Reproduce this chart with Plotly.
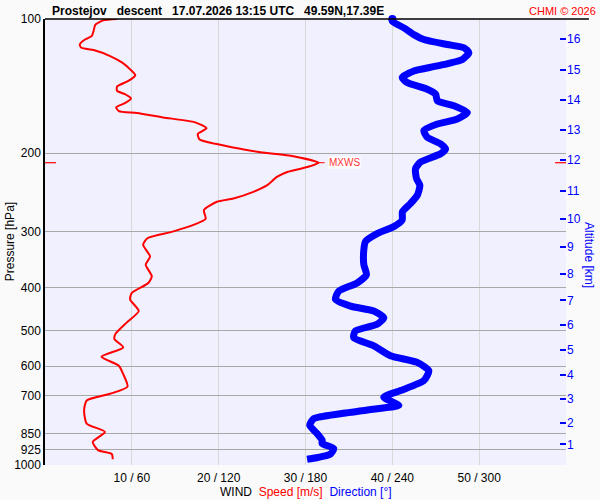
import numpy as np
import plotly.graph_objects as go

# wind speed profile (pressure hPa -> speed m/s)
spd_pres = [100.0, 100.7, 103.0, 106.3, 109.1, 111.2, 114.1, 116.0, 117.4, 121.1,
            125.3, 129.7, 133.8, 137.7, 141.7, 144.9, 147.4, 150.7, 154.4, 157.8,
            160.9, 162.5, 166.2, 170.5, 175.8, 181.0, 186.3, 190.5, 193.8, 198.9,
            203.2, 210.0, 214.7, 220.3, 226.0, 235.8, 244.1, 252.6, 256.9, 268.1,
            280.7, 289.5, 299.7, 310.1, 320.8, 340.7, 355.5, 377.5, 390.7, 411.2,
            425.4, 451.6, 479.5, 508.9, 522.1, 545.1, 571.7, 598.8, 624.9, 667.0,
            692.4, 716.6, 754.4, 807.5, 843.1, 887.6, 926.0, 945.2, 971.1]
speed = [8.3, 6.7, 5.8, 5.6, 5.4, 4.6, 4.0, 4.2, 5.6, 7.5,
         8.9, 9.8, 10.4, 9.6, 8.3, 8.3, 9.2, 9.9, 9.2, 8.2,
         8.5, 10.6, 13.6, 17.3, 18.6, 17.6, 17.8, 19.6, 21.5, 24.8,
         28.6, 31.5, 30.2, 27.9, 26.7, 25.6, 24.0, 21.7, 19.8, 18.3,
         18.5, 17.1, 14.7, 11.8, 11.3, 12.1, 11.6, 12.3, 11.9, 10.0,
         9.8, 10.8, 9.4, 8.1, 8.0, 9.0, 6.5, 8.5, 9.0, 9.5,
         7.5, 4.8, 4.5, 4.8, 6.9, 5.5, 6.1, 7.7, 7.8]

# wind direction profile (pressure hPa -> direction deg)
dir_pres = [100.0, 101.2, 104.7, 108.4, 111.2, 114.1, 116.0, 119.0, 123.2, 127.4,
            130.8, 135.3, 138.8, 143.7, 147.4, 152.5, 156.5, 162.0, 167.6, 172.0,
            177.9, 184.1, 190.5, 195.5, 200.5, 209.3, 216.6, 228.0, 235.8, 247.9,
            259.2, 270.4, 282.2, 292.1, 302.8, 315.5, 329.2, 355.5, 374.4, 390.7,
            407.6, 425.4, 440.2, 451.6, 467.4, 483.5, 500.3, 517.9, 540.4, 568.9,
            588.8, 614.4, 646.7, 680.8, 704.7, 735.4, 747.8, 767.3, 787.1, 814.7,
            850.2, 879.9, 895.0, 918.2, 945.2, 971.1]
direction = [240.0, 240.0, 248.0, 254.9, 261.8, 278.0, 289.5, 292.9, 288.4, 271.1,
             254.9, 246.8, 250.3, 264.1, 269.9, 271.1, 282.5, 291.8, 284.9, 271.1,
             261.8, 264.1, 273.3, 276.8, 273.3, 259.5, 256.0, 256.7, 259.0, 257.4,
             252.6, 247.0, 246.8, 241.0, 229.5, 221.4, 220.3, 220.3, 222.1, 215.7,
             203.0, 200.7, 211.1, 227.2, 234.1, 229.5, 214.5, 213.3, 227.2, 238.7,
             257.2, 265.2, 261.8, 245.7, 234.1, 244.5, 229.5, 204.1, 185.7, 182.9,
             188.0, 191.5, 191.5, 199.5, 197.2, 181.1]

# axis ticks
tick_speed = [10, 20, 30, 40, 50]
tick_dir = [60, 120, 180, 240, 300]
pres_ticks = [100, 200, 300, 400, 500, 600, 700, 850, 925, 1000]
alt_km = [1, 2, 3, 4, 5, 6, 7, 8, 9, 10, 11, 12, 13, 14, 15, 16]
alt_pres = [899.0, 803.3, 710.2, 628.1, 551.7, 486.1, 427.6, 372.3, 324.3, 280.8,
            242.8, 206.9, 177.0, 152.0, 130.3, 110.6]

FONT = "Liberation Sans, Arial, sans-serif"

i_max = int(np.argmax(speed))
p_max = spd_pres[i_max]
v_max = speed[i_max]

fig = go.Figure()

fig.add_trace(go.Scatter(
    x=direction, y=dir_pres, xaxis="x2", yaxis="y",
    mode="lines", line=dict(color="#0000ff", width=7, shape="spline", smoothing=0.6),
    hoverinfo="skip", showlegend=False))
fig.add_trace(go.Scatter(
    x=[direction[0]], y=[dir_pres[0]], xaxis="x2", yaxis="y",
    mode="markers", marker=dict(color="#0000ff", size=8),
    hoverinfo="skip", showlegend=False, cliponaxis=False))
fig.add_trace(go.Scatter(
    x=speed, y=spd_pres, xaxis="x", yaxis="y",
    mode="lines", line=dict(color="#ff0000", width=2, shape="spline", smoothing=0.6),
    hoverinfo="skip", showlegend=False))
# carrier for the altitude axis
fig.add_trace(go.Scatter(
    x=[None], y=[None], xaxis="x", yaxis="y2", mode="lines",
    hoverinfo="skip", showlegend=False))

fig.update_layout(
    width=600, height=500, autosize=False,
    margin=dict(l=45, r=34, t=16, b=35),
    paper_bgcolor="#fafafa", plot_bgcolor="#f0f0fe",
    font=dict(family=FONT, size=12, color="#000000"),
    xaxis=dict(range=[0, 60], tickvals=tick_speed + [60],
               ticktext=[f"{s} / {d}" for s, d in zip(tick_speed, tick_dir)] + [""],
               showgrid=True, gridcolor="#d8d8d8", gridwidth=1,
               zeroline=False, showline=False, ticks="", ticklabelstandoff=4),
    xaxis2=dict(range=[0, 360], overlaying="x", visible=False),
    yaxis=dict(type="log", range=[3, 2], tickvals=pres_ticks,
               ticktext=[str(p) for p in pres_ticks],
               showgrid=True, gridcolor="#a8a8a8", gridwidth=1,
               showline=True, linecolor="#000000", linewidth=1.5,
               zeroline=False, ticks=""),
    yaxis2=dict(type="log", range=[3, 2], overlaying="y", side="right",
                tickvals=alt_pres, ticktext=[str(a) for a in alt_km],
                ticks="inside", ticklen=6, tickwidth=2, tickcolor="#0000ff",
                tickfont=dict(color="#0000ff", size=12),
                showgrid=False, showline=False, zeroline=False),
)

# top frame line
fig.add_shape(type="line", xref="paper", yref="paper", x0=0, x1=1.044, y0=1, y1=1,
              line=dict(color="#000000", width=1.5))

# max wind markers
ly = np.log10(p_max)
fig.add_shape(type="line", xref="paper", yref="y", x0=0, x1=0.021, y0=p_max, y1=p_max,
              line=dict(color="#ff0000", width=1.2))
fig.add_shape(type="line", xref="paper", yref="y", x0=0.979, x1=1.0, y0=p_max, y1=p_max,
              line=dict(color="#ff0000", width=1.2))
fig.add_shape(type="line", xref="x", yref="y", x0=v_max, x1=v_max + 0.7, y0=p_max, y1=p_max,
              line=dict(color="#ff0000", width=1))
fig.add_annotation(x=v_max + 1.1, y=ly, xref="x", yref="y", text="MXWS", showarrow=False,
                   xanchor="left", yanchor="middle", bgcolor="#ffffff",
                   font=dict(color="#ff3333", size=10, family=FONT), borderpad=0)

# titles
fig.add_annotation(x=0.0096, y=1.018, xref="paper", yref="paper", showarrow=False,
                   xanchor="left", yanchor="middle",
                   text="<b>Prostejov   descent   17.07.2026 13:15 UTC   49.59N,17.39E</b>",
                   font=dict(size=12, color="#000000", family=FONT))
fig.add_annotation(x=1.0614, y=1.018, xref="paper", yref="paper", showarrow=False,
                   xanchor="right", yanchor="middle", text="CHMI © 2026",
                   font=dict(size=11, color="#ff0000", family=FONT))
fig.add_annotation(x=0.5, y=-0.06, xref="paper", yref="paper", showarrow=False,
                   xanchor="center", yanchor="middle",
                   text="WIND  <span style='color:#ff0000'>Speed [m/s]</span>  "
                        "<span style='color:#0000ff'>Direction [°]</span>",
                   font=dict(size=12, color="#000000", family=FONT))
fig.add_annotation(x=-0.084, y=0.5, xref="paper", yref="paper", showarrow=False,
                   textangle=-90, text="Pressure [hPa]",
                   font=dict(size=12, color="#000000", family=FONT))
fig.add_annotation(x=1.06, y=0.47, xref="paper", yref="paper", showarrow=False,
                   textangle=90, text="Altitude [km]",
                   font=dict(size=12, color="#0000ff", family=FONT))

fig.write_html("out.html", config={"displayModeBar": False},
               post_script="document.body.style.margin='0';")
